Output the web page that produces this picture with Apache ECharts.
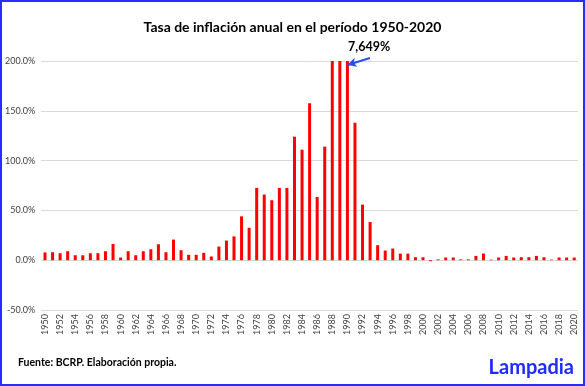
<!DOCTYPE html>
<html><head><meta charset="utf-8">
<script src="https://cdn.jsdelivr.net/npm/echarts@6/dist/echarts.min.js"></script>
<style>html,body{margin:0;padding:0;background:#fff}#c{width:585px;height:386px;box-sizing:border-box;border:2px solid #2b2bff}</style>
</head><body><div id="c"></div>
<script>
var years = ['1950','1951','1952','1953','1954','1955','1956','1957','1958','1959',
'1960','1961','1962','1963','1964','1965','1966','1967','1968','1969',
'1970','1971','1972','1973','1974','1975','1976','1977','1978','1979',
'1980','1981','1982','1983','1984','1985','1986','1987','1988','1989',
'1990','1991','1992','1993','1994','1995','1996','1997','1998','1999',
'2000','2001','2002','2003','2004','2005','2006','2007','2008','2009',
'2010','2011','2012','2013','2014','2015','2016','2017','2018','2019','2020'];
var inflation = [7.8,8.0,7.0,9.0,5.0,5.0,7.0,7.0,9.0,16.3,
2.7,9.0,5.0,9.0,11.0,16.0,8.0,20.7,10.0,5.4,
5.4,7.4,3.7,13.7,19.7,23.9,44.0,32.6,72.6,65.9,
60.2,72.6,72.6,124.0,111.0,157.6,63.5,114.0,667.0,3398.6,
7649.0,138.0,55.8,38.3,15.1,9.7,11.7,6.6,6.6,3.0,
3.0,-1.0,0.8,2.7,2.7,0.8,0.8,4.3,6.7,0.6,
2.7,4.3,2.7,3.0,3.0,4.3,3.0,0.6,2.7,2.7,2.7];
var yTicks = {min: -50, max: 200, interval: 50};
var peakYear = '1990';
var titleText = 'Tasa de inflación anual en el período 1950-2020';
var sourceText = 'Fuente: BCRP. Elaboración propia.';
var brandText = 'Lampadia';

var chart = echarts.init(document.getElementById('c'), null, {renderer: 'canvas'});
var peakVal = inflation[years.indexOf(peakYear)];
var peakLabel = Math.round(peakVal).toLocaleString('en-US') + '%';
var font = 'Lato, "Open Sans", sans-serif';
chart.setOption({
  animation: false,
  title: {text: titleText, left: 'center', top: 13,
    textStyle: {fontFamily: font, fontSize: 14, fontWeight: 'bold', color: '#000'}},
  grid: {left: 39, right: 5, top: 59, bottom: 74, containLabel: false},
  xAxis: {type: 'category', data: years,
    axisLine: {show: false}, axisTick: {show: false},
    axisLabel: {interval: 1, rotate: 90, fontSize: 9, color: '#404040', fontFamily: font, margin: 4}},
  yAxis: {type: 'value', min: yTicks.min, max: yTicks.max, interval: yTicks.interval,
    axisLine: {show: false}, axisTick: {show: false},
    splitLine: {lineStyle: {color: '#d9d9d9', width: 1}},
    axisLabel: {fontSize: 9, color: '#404040', fontFamily: font, margin: 6,
      formatter: function(v){return v.toFixed(1) + '%';}}},
  series: [{type: 'bar', data: inflation, barWidth: 3, clip: true,
    itemStyle: {color: '#ff0000'},
    markLine: {silent: true, symbol: ['none', 'arrow'], symbolSize: [7, 9],
      lineStyle: {color: '#2b4cf0', width: 2, type: 'solid'},
      label: {show: false},
      data: [[{x: 368, y: 56}, {coord: [peakYear, yTicks.max - 4]}]]}
  }],
  graphic: [
    {type: 'text', left: 346, top: 38, style: {text: peakLabel, fontFamily: font, fontSize: 12.5, fontWeight: 'bold', fill: '#000'}},
    {type: 'text', left: 16, top: 355, style: {text: sourceText, fontFamily: font, fontSize: 10.5, fontWeight: 'bold', fill: '#000'}},
    {type: 'text', right: 9, top: 356, style: {text: brandText, fontFamily: font, fontSize: 20, fontWeight: 'bold', fill: '#1f2bff'}}
  ]
});
</script></body></html>
